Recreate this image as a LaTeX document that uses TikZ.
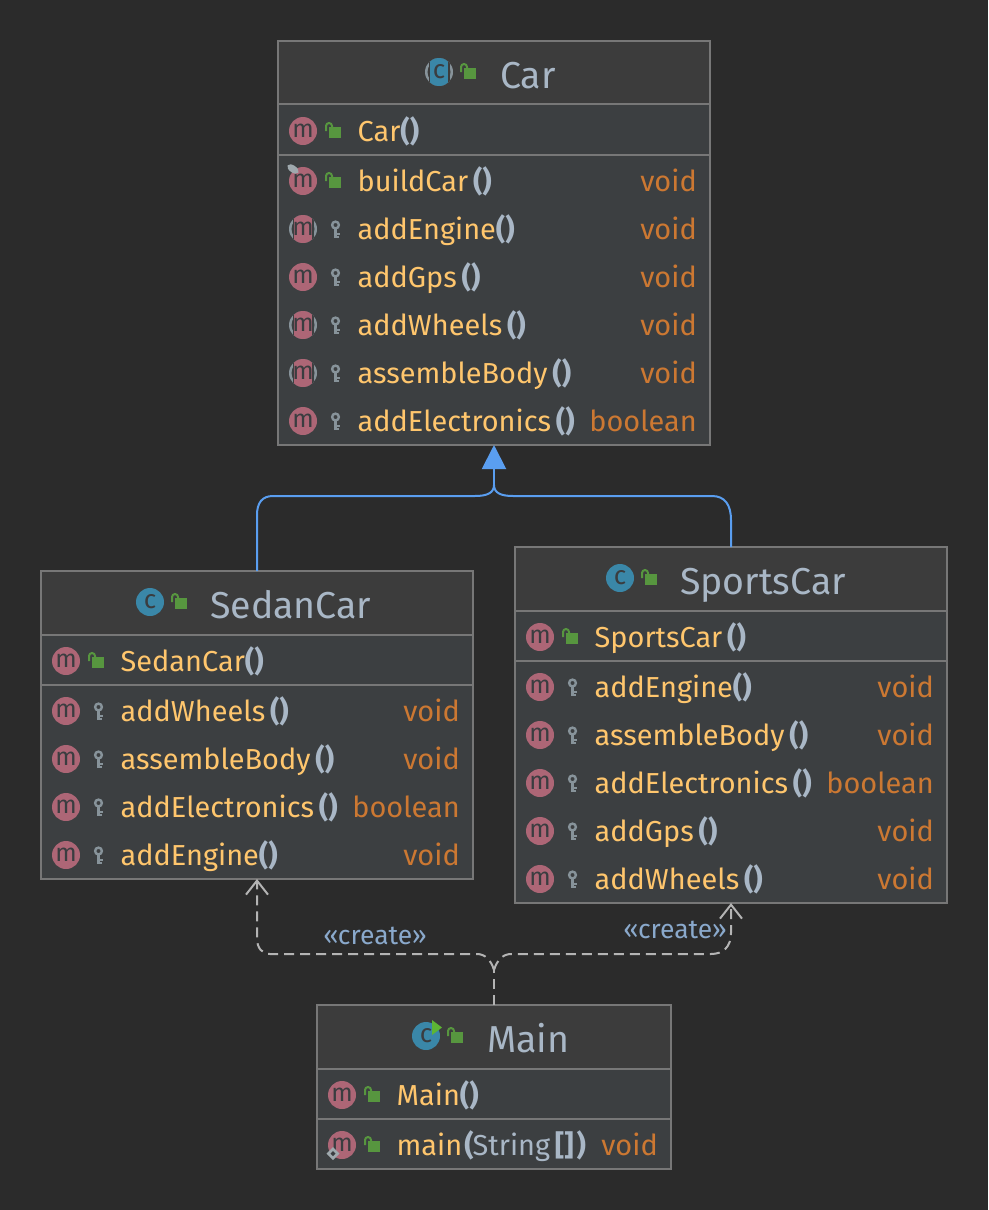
\documentclass[tikz,border=0pt]{standalone}
\usepackage{fontspec}
\setmainfont{Fira Sans}
\usetikzlibrary{arrows.meta}

\definecolor{pagebg}{HTML}{2B2B2B}
\definecolor{bodybg}{HTML}{3C3F41}
\definecolor{headbg}{HTML}{3C3C3C}
\definecolor{boxline}{HTML}{777777}
\definecolor{nametxt}{HTML}{A9B7C6}
\definecolor{methtxt}{HTML}{FFC66D}
\definecolor{typetxt}{HTML}{CC7832}
\definecolor{methbg}{HTML}{AD6676}
\definecolor{classbg}{HTML}{3A87A8}
\definecolor{iconink}{HTML}{3A3D40}
\definecolor{ringgrey}{HTML}{87939A}
\definecolor{lockgreen}{HTML}{57963F}
\definecolor{runarrow}{HTML}{5DB534}
\definecolor{extendblue}{HTML}{5A9EF0}
\definecolor{createline}{HTML}{B4B4B4}
\definecolor{createtxt}{HTML}{8AA9CC}

\tikzset{
  classbox/.style={draw=boxline, fill=bodybg, line width=2pt, inner sep=0pt, outer sep=0pt, anchor=north west},
  classhead/.style={draw=boxline, fill=headbg, line width=2pt},
  rowline/.style={draw=boxline, line width=2pt},
  titletxt/.style={text=nametxt, anchor=base west, inner sep=0pt, font=\fontsize{37.5}{42}\selectfont},
  rowtxt/.style={text=methtxt, anchor=base west, inner sep=0pt, font=\fontsize{28.9}{34}\selectfont},
  rettxt/.style={text=typetxt, anchor=base east, inner sep=0pt, font=\fontsize{28.9}{34}\selectfont},
  createlabel/.style={text=createtxt, inner sep=0pt, font=\fontsize{26.5}{30}\selectfont},
  extends/.style={draw=extendblue, line width=2pt},
  creates/.style={draw=createline, line width=2pt, dash pattern=on 10pt off 6pt},
  pics/methicon/.style={code={
    \fill[methbg] (0,0) circle (14);
    \node[text=iconink, font=\fontsize{25}{25}\selectfont, inner sep=0pt] (-m) at (0,0) {m};
  }},
  pics/methabstract/.style={code={
    \fill[ringgrey] (0,0) circle (14);
    \fill[bodybg] (0,0) circle (11.5);
    \begin{scope}
      \clip (0,0) circle (14);
      \fill[bodybg] (-10.5,-14) rectangle (10.5,14);
      \fill[methbg] (-9,-14) rectangle (9,14);
    \end{scope}
    \node[text=iconink, font=\fontsize{25}{25}\selectfont, inner sep=0pt] (-m) at (0,0) {m};
  }},
  pics/methoverride/.style={code={
    \fill[methbg] (0,0) circle (14);
    \node[text=iconink, font=\fontsize{25}{25}\selectfont, inner sep=0pt] (-m) at (0,0) {m};
    \fill[ringgrey!80!white, rotate around={-35:(-10,-12)}] (-10,-12) ellipse (6.5 and 3.5);
  }},
  pics/methstatic/.style={code={
    \fill[methbg] (0,0) circle (14);
    \node[text=iconink, font=\fontsize{25}{25}\selectfont, inner sep=0pt] (-m) at (0,0) {m};
    \fill[ringgrey!80!white] (-9,2) -- (-2.5,8.5) -- (-9,15) -- (-15.5,8.5) -- cycle;
    \fill[iconink] (-9,6) -- (-6.5,8.5) -- (-9,11) -- (-11.5,8.5) -- cycle;
  }},
  pics/lockicon/.style={code={
    \fill[lockgreen] (-5,-4) rectangle (7,7);
    \draw[lockgreen, line width=2pt] (-8,0) -- (-8,-5) arc[start angle=180, end angle=360, radius=3] -- (-2,-3);
  }},
  pics/keyicon/.style={code={
    \draw[ringgrey, line width=2.4pt] (1.5,-4) circle (3.4);
    \draw[ringgrey, line width=3.5pt] (1.5,-1) -- (1.5,9);
    \draw[ringgrey, line width=2pt] (1.5,4.5) -- (6,4.5) (1.5,8) -- (5,8);
  }},
}

% box, y of the row, icon, access, text, return type
\newcommand{\methodrow}[6]{
  \pic (#1-i#2) at ([xshift=25pt]#1.west |- 0,#2) {#3};
  \pic at ([xshift=56pt]#1.west |- 0,#2) {#4};
  \node[rowtxt] (#1-t#2) at ([xshift=79.5pt]#1.west |- 0,#2+10) {#5};
  \node[rettxt] (#1-r#2) at ([xshift=-13pt]#1.east |- 0,#2+10) {#6};
}
\newcommand{\noargs}{{\color{nametxt}\bfseries()}}

\begin{document}
\begin{tikzpicture}[x=1pt, y=-1pt]
  \path[use as bounding box, fill=pagebg] (0,0) rectangle (988,1210);

  % Car
  \node[classbox, minimum width=432pt, minimum height=404pt] (car) at (278,41) {};
  \draw[classhead] (car.north west) rectangle (car.east |- 0,104.3);
  \draw[rowline] (car.west |- 0,155) -- (car.east |- 0,155);
  \fill[ringgrey] (439,72) circle (14);
  \fill[headbg] (439,72) circle (11.5);
  \begin{scope}
    \clip (439,72) circle (14);
    \fill[headbg] (428.5,58) rectangle (449.5,86);
    \fill[classbg] (430,58) rectangle (448,86);
  \end{scope}
  \node[text=iconink, font=\fontsize{26}{26}\selectfont, inner sep=0pt] (carC) at (439,72) {c};
  \pic at (469,72) {lockicon};
  \node[titletxt] (carTitle) at (500,88) {Car};
  \methodrow{car}{131}{methicon}{lockicon}{Car\noargs}{}
  \methodrow{car}{181}{methoverride}{lockicon}{buildCar\,\noargs}{void}
  \methodrow{car}{229}{methabstract}{keyicon}{addEngine\noargs}{void}
  \methodrow{car}{277}{methicon}{keyicon}{addGps\,\noargs}{void}
  \methodrow{car}{325}{methabstract}{keyicon}{addWheels\,\noargs}{void}
  \methodrow{car}{373}{methabstract}{keyicon}{assembleBody\,\noargs}{void}
  \methodrow{car}{421}{methicon}{keyicon}{addElectronics\,\noargs}{boolean}

  % SedanCar
  \node[classbox, minimum width=432pt, minimum height=308pt] (sedan) at (41,571) {};
  \draw[classhead] (sedan.north west) rectangle (sedan.east |- 0,635);
  \draw[rowline] (sedan.west |- 0,685) -- (sedan.east |- 0,685);
  \fill[classbg] (150,602) circle (14);
  \node[text=iconink, font=\fontsize{26}{26}\selectfont, inner sep=0pt] (sedanC) at (150,602) {c};
  \pic at (180,602) {lockicon};
  \node[titletxt] (sedanTitle) at (210,618) {SedanCar};
  \methodrow{sedan}{661}{methicon}{lockicon}{SedanCar\noargs}{}
  \methodrow{sedan}{711}{methicon}{keyicon}{addWheels\,\noargs}{void}
  \methodrow{sedan}{759}{methicon}{keyicon}{assembleBody\,\noargs}{void}
  \methodrow{sedan}{807}{methicon}{keyicon}{addElectronics\,\noargs}{boolean}
  \methodrow{sedan}{855}{methicon}{keyicon}{addEngine\noargs}{void}

  % SportsCar
  \node[classbox, minimum width=432pt, minimum height=356pt] (sports) at (515,547) {};
  \draw[classhead] (sports.north west) rectangle (sports.east |- 0,610.5);
  \draw[rowline] (sports.west |- 0,660.5) -- (sports.east |- 0,660.5);
  \fill[classbg] (620,578) circle (14);
  \node[text=iconink, font=\fontsize{26}{26}\selectfont, inner sep=0pt] (sportsC) at (620,578) {c};
  \pic at (650,578) {lockicon};
  \node[titletxt] (sportsTitle) at (680,594) {SportsCar};
  \methodrow{sports}{637}{methicon}{lockicon}{SportsCar\,\noargs}{}
  \methodrow{sports}{687}{methicon}{keyicon}{addEngine\noargs}{void}
  \methodrow{sports}{735}{methicon}{keyicon}{assembleBody\,\noargs}{void}
  \methodrow{sports}{783}{methicon}{keyicon}{addElectronics\,\noargs}{boolean}
  \methodrow{sports}{831}{methicon}{keyicon}{addGps\,\noargs}{void}
  \methodrow{sports}{879}{methicon}{keyicon}{addWheels\,\noargs}{void}

  % Main
  \node[classbox, minimum width=354pt, minimum height=164pt] (main) at (317,1005) {};
  \draw[classhead] (main.north west) rectangle (main.east |- 0,1069);
  \draw[rowline] (main.west |- 0,1119) -- (main.east |- 0,1119);
  \fill[classbg] (426,1036) circle (14);
  \node[text=iconink, font=\fontsize{26}{26}\selectfont, inner sep=0pt] (mainC) at (426,1036) {c};
  \fill[runarrow] (432,1020) -- (442,1027.5) -- (432,1035) -- cycle;
  \pic at (456,1036) {lockicon};
  \node[titletxt] (mainTitle) at (487,1052) {Main};
  \methodrow{main}{1095}{methicon}{lockicon}{Main\noargs}{}
  \methodrow{main}{1145}{methstatic}{lockicon}{main\kern2pt{\color{nametxt}\bfseries(}\kern-1pt{\color{nametxt}String\,\textbf{[]}\kern3pt\bfseries)}}{void}

  % inheritance
  \coordinate (extJoin) at (494,485);
  \draw[extends, -{Triangle[length=24pt, width=24pt]}] (extJoin) -- (car.south);
  \draw[extends] (sedan.north) -- (257,515) .. controls (257,503) and (262,496) .. (273,496)
    -- (475,496) .. controls (487,496) and (494,493) .. (extJoin);
  \draw[extends] (sports.north) -- (731,520) .. controls (731,505) and (725,496) .. (712,496)
    -- (513,496) .. controls (501,496) and (494,493) .. (extJoin);

  % create
  \coordinate (newJoin) at (494,970);
  \draw[creates] (main.north) -- (newJoin);
  \draw[creates, -{Straight Barb[length=14pt, width=22pt]}] (newJoin) .. controls (491,960) and (485,954) .. (477,954)
    -- (270,954) .. controls (262,954) and (257,948) .. (257,938) -- (sedan.south);
  \draw[creates, -{Straight Barb[length=14pt, width=22pt]}] (newJoin) .. controls (497,960) and (503,954) .. (511,954)
    -- (711,954) .. controls (723,954) and (731,947) .. (731,933) -- (sports.south);
  \node[createlabel] (createSedan) at (375,936) {«create»};
  \node[createlabel] (createSports) at (675,930) {«create»};
\end{tikzpicture}
\end{document}
